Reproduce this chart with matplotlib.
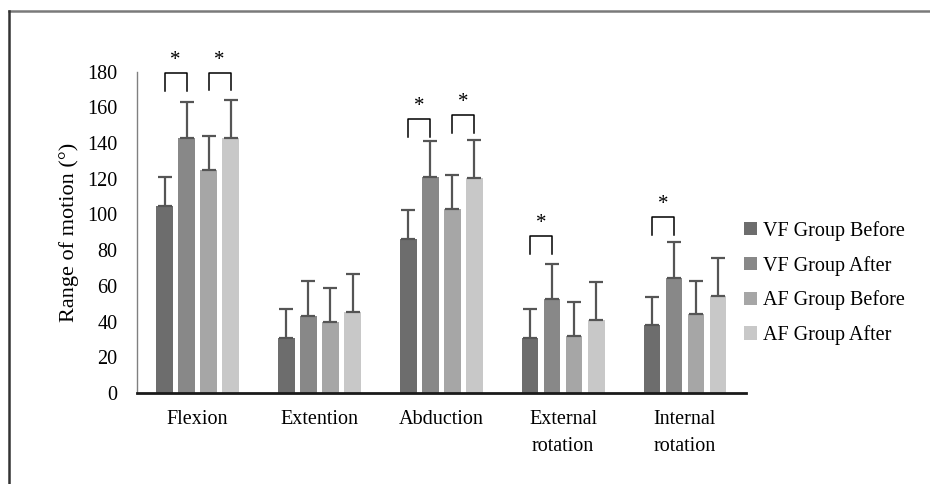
import numpy as np
import matplotlib
matplotlib.use("Agg")
import matplotlib.pyplot as plt
from matplotlib.lines import Line2D

plt.rcParams['font.family'] = ['Liberation Serif', 'DejaVu Serif']

categories = ['Flexion', 'Extention', 'Abduction', 'External\nrotation', 'Internal\nrotation']
series = ['VF Group Before', 'VF Group After', 'AF Group Before', 'AF Group After']
colors = ['#6d6d6d', '#888888', '#a6a6a6', '#c8c8c8']

vf_before = [105, 31, 86.5, 31, 38]
vf_after = [143, 43, 121, 52.5, 64.5]
af_before = [125, 40, 103, 32, 44]
af_after = [143, 45.5, 120.5, 41, 54.5]

vf_before_sd = [16, 16, 16, 16, 16]
vf_after_sd = [20, 20, 20, 20, 20]
af_before_sd = [19, 19, 19, 19, 19]
af_after_sd = [21, 21, 21, 21, 21]

# significance brackets: (category, first series, second series, bracket top)
brackets = [(0, 0, 1, 179), (0, 2, 3, 179.5), (2, 0, 1, 153.5), (2, 2, 3, 155.5),
            (3, 0, 1, 88), (4, 0, 1, 98.5)]

values = [vf_before, vf_after, af_before, af_after]
errors = [vf_before_sd, vf_after_sd, af_before_sd, af_after_sd]

fig = plt.figure(figsize=(9.3, 4.84), dpi=100)
ax = fig.add_axes([0.147, 0.188, 0.655, 0.664])

x = np.arange(len(categories))
step = 0.181
width = 0.137
offsets = (np.arange(4) - 1.5) * step

for i in range(4):
    ax.bar(x + offsets[i], values[i], width, color=colors[i], label=series[i], zorder=2)
    ax.errorbar(x + offsets[i], values[i], yerr=[np.zeros(5), errors[i]], fmt='none',
                ecolor='#555555', elinewidth=1.6, capsize=5, capthick=1.6, zorder=3)

for c, a, b, top in brackets:
    x1 = c + offsets[a]
    x2 = c + offsets[b]
    ax.plot([x1, x1, x2, x2], [top - 10, top, top, top - 10], color='black', lw=1.1,
            clip_on=False, zorder=4)
    ax.text((x1 + x2) / 2, top + 7, '*', ha='center', va='center', fontsize=15,
            clip_on=False)

ax.set_xlim(-0.5, 4.5)
ax.set_ylim(0, 180)
ax.set_yticks(np.arange(0, 181, 20))
ax.set_xticks(x)
ax.set_xticklabels(categories, fontsize=14.5, linespacing=1.6)
ax.tick_params(axis='y', labelsize=14.5, length=0, pad=14)
ax.tick_params(axis='x', length=0, pad=12)
ax.set_ylabel('Range of motion (°)', fontsize=16, labelpad=6)

for s in ['top', 'right']:
    ax.spines[s].set_visible(False)
ax.spines['left'].set_color('#808080')
ax.spines['left'].set_linewidth(1.0)
ax.spines['bottom'].set_color('#1a1a1a')
ax.spines['bottom'].set_linewidth(2.0)

ax.legend(loc='center left', bbox_to_anchor=(744 / 930, 1 - 283 / 484),
          bbox_transform=fig.transFigure, frameon=False, fontsize=14.5,
          handlelength=0.65, handleheight=0.65, handletextpad=0.3, labelspacing=0.74,
          borderaxespad=0, borderpad=0)

# outer frame lines
fig.add_artist(Line2D([0.0102, 1.0], [1 - 11 / 484, 1 - 11 / 484], color='#7a7a7a', lw=1.8))
fig.add_artist(Line2D([0.0102, 0.0102], [0.0, 1 - 11 / 484], color='#333333', lw=1.8))

fig.savefig('out.png', dpi=100)
